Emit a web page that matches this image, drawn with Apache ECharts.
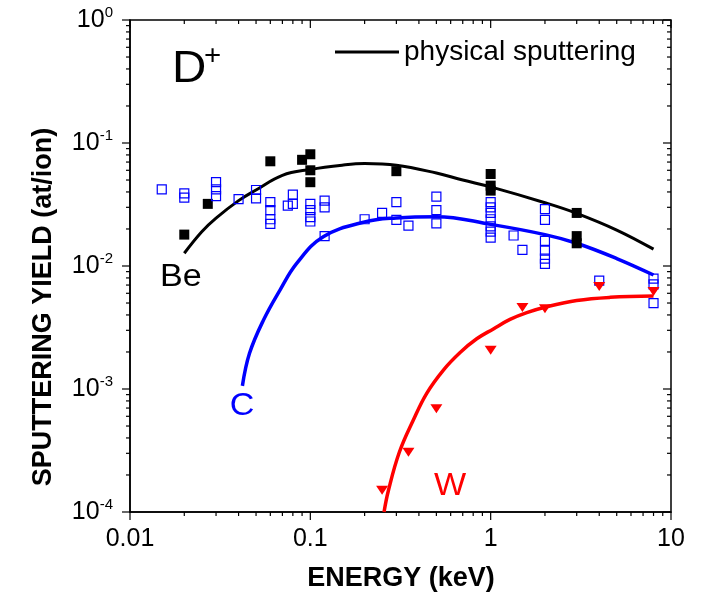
<!DOCTYPE html>
<html><head><meta charset="utf-8">
<script src="https://cdn.jsdelivr.net/npm/echarts@6/dist/echarts.min.js"></script>
<style>html,body{margin:0;padding:0;background:#fff}#c{width:706px;height:598px}</style>
</head><body><div id="c"></div>
<script>
const FONT = '"Liberation Sans", Arial, Helvetica, sans-serif';

// axis ranges and tick values (log axes)
const xRange = [0.01, 10];
const yRange = [1e-4, 1];
const xMajorTicks = [0.01, 0.1, 1, 10];
const xMinorTicks = [0.02,0.03,0.04,0.05,0.06,0.07,0.08,0.09,0.2,0.3,0.4,0.5,0.6,0.7,0.8,0.9,2,3,4,5,6,7,8,9];
const yMajorTicks = [1e-4, 1e-3, 1e-2, 1e-1, 1];
const yMinorTicks = [0.0002,0.0003,0.0004,0.0005,0.0006,0.0007,0.0008,0.0009,
  0.002,0.003,0.004,0.005,0.006,0.007,0.008,0.009,
  0.02,0.03,0.04,0.05,0.06,0.07,0.08,0.09,
  0.2,0.3,0.4,0.5,0.6,0.7,0.8,0.9];

// Be measured (filled black squares)
const beE = [0.02, 0.027, 0.06, 0.09, 0.1, 0.1, 0.1, 0.3, 1, 1, 1, 3, 3, 3];
const beY = [0.018, 0.032, 0.071, 0.073, 0.081, 0.060, 0.048, 0.059, 0.056, 0.045, 0.041, 0.027, 0.0175, 0.0153];

// C measured (open blue squares)
const cE = [0.015, 0.02, 0.02, 0.03, 0.03, 0.03, 0.04, 0.05, 0.05, 0.06, 0.06, 0.06, 0.06,
  0.075, 0.08, 0.08, 0.1, 0.1, 0.1, 0.1, 0.12, 0.12, 0.12, 0.2, 0.25, 0.3, 0.3, 0.35,
  0.5, 0.5, 0.5, 1, 1, 1, 1, 1, 1, 1, 1.34, 1.5, 2, 2, 2, 2, 2, 2, 4, 8, 8, 8];
const cY = [0.042, 0.039, 0.036, 0.048, 0.042, 0.037, 0.035, 0.0415, 0.0355, 0.033, 0.0285, 0.024, 0.022,
  0.031, 0.038, 0.032, 0.032, 0.0285, 0.025, 0.023, 0.034, 0.030, 0.0175, 0.024, 0.027, 0.033, 0.0237, 0.0213,
  0.0366, 0.0285, 0.0222, 0.033, 0.030, 0.027, 0.024, 0.021, 0.019, 0.017, 0.0177, 0.0135,
  0.029, 0.0237, 0.016, 0.0133, 0.0115, 0.0104, 0.0076, 0.0079, 0.0071, 0.005];

// W measured (filled red down-triangles)
const wE = [0.25, 0.35, 0.5, 1, 1.5, 2, 4, 8];
const wY = [0.00015, 0.000306, 0.00069, 0.00207, 0.0046, 0.0045, 0.0068, 0.0062];

// physical sputtering curves
const beCurveE = [0.02, 0.025, 0.03, 0.04, 0.05, 0.07, 0.1, 0.15, 0.2, 0.3, 0.5, 0.7, 1, 2, 3, 5, 8];
const beCurveY = [0.0127, 0.019, 0.0245, 0.034, 0.0415, 0.0546, 0.061, 0.066, 0.068, 0.066, 0.057, 0.050, 0.044, 0.0327, 0.0268, 0.0196, 0.0137];
const cCurveE = [0.042, 0.046, 0.055, 0.068, 0.084, 0.118, 0.2, 0.3, 0.5, 1, 2, 3, 5, 8];
const cCurveY = [0.00106, 0.00195, 0.00364, 0.0064, 0.0105, 0.0173, 0.0228, 0.0246, 0.0252, 0.0218, 0.018, 0.0153, 0.0115, 0.00845];
const wCurveE = [0.2563, 0.2708, 0.3115, 0.3726, 0.442, 0.547, 0.677, 0.837, 1.035, 1.28, 1.586, 2.0, 3.0, 4.6, 8];
const wCurveY = [0.0001, 0.000149, 0.000306, 0.00056, 0.000923, 0.001426, 0.00198, 0.00256, 0.00308, 0.00368, 0.00418, 0.00462, 0.00524, 0.00556, 0.0057];

const zip = (a, b) => a.map((v, i) => [v, b[i]]);
const BLUE = '#0000ff', RED = '#ff0000';

// tick tables: [value, isMajor]
const xTicks = xMajorTicks.map(v => [v, 1]).concat(xMinorTicks.map(v => [v, 0]));
const yTicks = yMajorTicks.map(v => [v, 1]).concat(yMinorTicks.map(v => [v, 0]));

// tick marks placed through the axis scales (api.coord); dx/dy = direction of the mark
function tickSeries(name, rows, dx, dy) {
  return {
    name: name, type: 'custom', coordinateSystem: 'cartesian2d', clip: false, silent: true, z: 6,
    dimensions: ['x', 'y', 'major'], encode: {x: 0, y: 1}, data: rows,
    renderItem: (params, api) => {
      const p = api.coord([api.value(0), api.value(1)]);
      const len = api.value(2) ? 8 : 4;
      return {type: 'line', shape: {x1: p[0], y1: p[1], x2: p[0] + dx * len, y2: p[1] + dy * len},
        style: {stroke: '#000', lineWidth: 1.2}};
    }
  };
}

function logAxis(pos, range, label) {
  return {
    type: 'log', logBase: 10, min: range[0], max: range[1], position: pos,
    splitLine: {show: false},
    axisLine: {show: true, onZero: false, lineStyle: {color: '#000', width: 1.5}},
    axisTick: {show: false},
    minorTick: {show: false},
    axisLabel: label
  };
}

const xLabel = {show: true, fontSize: 25, fontFamily: FONT, color: '#000', margin: 15,
  formatter: v => String(v)};
const yLabel = {show: true, margin: 17,
  formatter: v => { const e = Math.round(Math.log10(v)); return '{b|10}{s|' + e + '}'; },
  rich: {
    b: {fontSize: 25, fontFamily: FONT, color: '#000', lineHeight: 30},
    s: {fontSize: 15, fontFamily: FONT, color: '#000', verticalAlign: 'top', lineHeight: 14}
  }};

const txt = (x, y, text, font, fill, align, sx) => ({type: 'text', x: x, y: y, scaleX: sx || 1,
  style: {text: text, font: font, fill: fill, textAlign: align, align: align, textVerticalAlign: 'middle', verticalAlign: 'middle'}});

const chart = echarts.init(document.getElementById('c'), null, {renderer: 'canvas'});
chart.setOption({
  animation: false,
  backgroundColor: '#fff',
  grid: {left: 130, right: 35, top: 20, bottom: 86, show: true, borderColor: '#000', borderWidth: 1.5, backgroundColor: 'rgba(0,0,0,0)'},
  legend: {
    show: true, left: 335, top: 38, padding: 0, itemWidth: 64, itemHeight: 3, icon: 'rect',
    itemGap: 6, selectedMode: false,
    textStyle: {fontSize: 28, fontFamily: FONT, color: '#000'},
    data: ['physical sputtering']
  },
  xAxis: logAxis('bottom', xRange, xLabel),
  yAxis: logAxis('left', yRange, yLabel),
  series: [
    {name: 'physical sputtering', type: 'line', data: zip(beCurveE, beCurveY), smooth: 0.4,
      showSymbol: false, lineStyle: {color: '#000', width: 3}, itemStyle: {color: '#000'}, z: 2},
    {name: 'C curve', type: 'line', data: zip(cCurveE, cCurveY), smooth: 0.4,
      showSymbol: false, lineStyle: {color: BLUE, width: 3.5}, itemStyle: {color: BLUE}, z: 2},
    {name: 'W curve', type: 'line', data: zip(wCurveE, wCurveY), smooth: 0.4,
      showSymbol: false, lineStyle: {color: RED, width: 3.5}, itemStyle: {color: RED}, z: 2},
    {name: 'Be', type: 'scatter', data: zip(beE, beY), symbol: 'rect', symbolSize: 10,
      itemStyle: {color: '#000', opacity: 1}, z: 3},
    {name: 'C', type: 'scatter', data: zip(cE, cY), symbol: 'rect', symbolSize: 9,
      itemStyle: {color: 'rgba(255,255,255,0)', borderColor: BLUE, borderWidth: 1.2, opacity: 1}, z: 4},
    {name: 'W', type: 'scatter', data: zip(wE, wY), symbol: 'triangle', symbolSize: [12, 9], symbolRotate: 180,
      itemStyle: {color: RED, opacity: 1}, z: 5},
    tickSeries('ticks-bottom', xTicks.map(t => [t[0], yRange[0], t[1]]), 0, 1),
    tickSeries('ticks-top', xTicks.map(t => [t[0], yRange[1], t[1]]), 0, 1),
    tickSeries('ticks-left', yTicks.map(t => [xRange[0], t[0], t[1]]), -1, 0),
    tickSeries('ticks-right', yTicks.map(t => [xRange[1], t[0], t[1]]), -1, 0)
  ],
  graphic: [
    txt(172, 70, 'D', '44px ' + FONT, '#000', 'left', 1.08),
    txt(204, 56, '+', '28px ' + FONT, '#000', 'left', 1.05),
    txt(160, 277, 'Be', '31px ' + FONT, '#000', 'left', 1.1),
    txt(242, 406, 'C', '31px ' + FONT, BLUE, 'center', 1.1),
    txt(450, 486, 'W', '31px ' + FONT, RED, 'center', 1.1),
    txt(401, 579, 'ENERGY (keV)', 'bold 27px ' + FONT, '#000', 'center', 1),
    {type: 'text', x: 44, y: 307, rotation: Math.PI / 2,
      style: {text: 'SPUTTERING YIELD (at/ion)', font: 'bold 27px ' + FONT, fill: '#000', textAlign: 'center', align: 'center', textVerticalAlign: 'middle', verticalAlign: 'middle'}}
  ]
});
</script>
</body></html>
